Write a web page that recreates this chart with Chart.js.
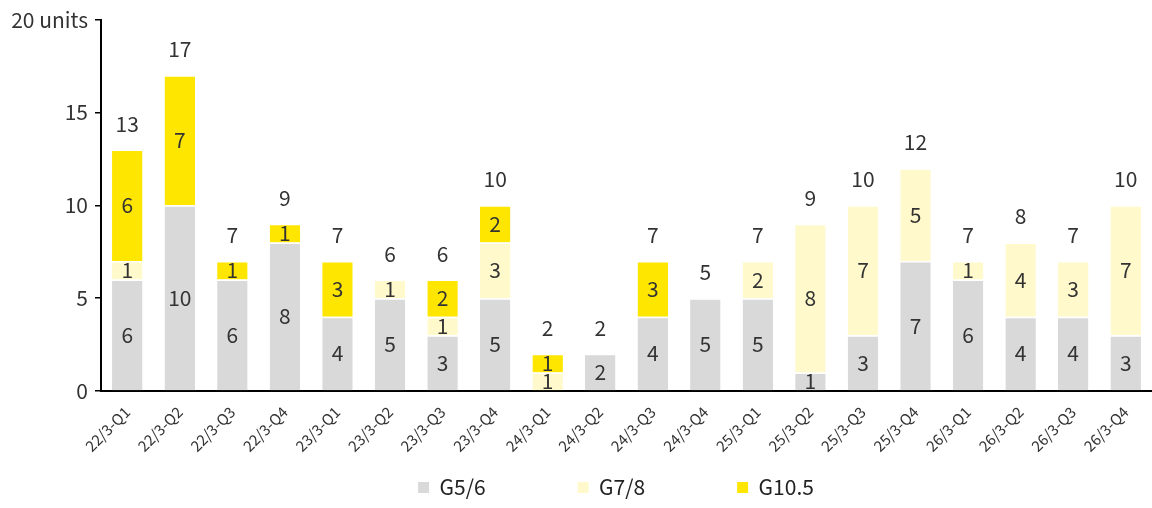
<!DOCTYPE html>
<html>
<head>
<meta charset="utf-8">
<script src="https://cdn.jsdelivr.net/npm/chart.js@4"></script>
<style>
  html, body { margin: 0; padding: 0; background: #fff; }
  #wrap { width: 1152px; height: 508px; }
</style>
</head>
<body>
<div id="wrap"><canvas id="myChart"></canvas></div>
<script>
const FONT = '"Noto Sans CJK JP", "Noto Sans", sans-serif';

const quarters = ['22/3-Q1', '22/3-Q2', '22/3-Q3', '22/3-Q4', '23/3-Q1', '23/3-Q2', '23/3-Q3', '23/3-Q4',
  '24/3-Q1', '24/3-Q2', '24/3-Q3', '24/3-Q4', '25/3-Q1', '25/3-Q2', '25/3-Q3', '25/3-Q4',
  '26/3-Q1', '26/3-Q2', '26/3-Q3', '26/3-Q4'];
const g56 = [6, 10, 6, 8, 4, 5, 3, 5, 0, 2, 4, 5, 5, 1, 3, 7, 6, 4, 4, 3];
const g78 = [1, 0, 0, 0, 0, 1, 1, 3, 1, 0, 0, 0, 2, 8, 7, 5, 1, 4, 3, 7];
const g105 = [6, 7, 1, 1, 3, 0, 2, 2, 1, 0, 3, 0, 0, 0, 0, 0, 0, 0, 0, 0];
const yTicks = [0, 5, 10, 15, 20];

const totals = quarters.map((q, i) => g56[i] + g78[i] + g105[i]);

// numbers inside each segment + totals above the stack
const valueLabels = {
  id: 'valueLabels',
  afterDatasetsDraw(chart) {
    const ctx = chart.ctx;
    const y = chart.scales.y;
    ctx.save();
    ctx.font = '21px ' + FONT;
    ctx.fillStyle = '#333';
    ctx.textAlign = 'center';
    ctx.textBaseline = 'middle';
    chart.data.datasets.forEach((ds, i) => {
      chart.getDatasetMeta(i).data.forEach((bar, j) => {
        if (!ds.data[j]) return;
        ctx.fillText(ds.data[j], bar.x, (bar.y + bar.base) / 2);
      });
    });
    const bars = chart.getDatasetMeta(0).data;
    totals.forEach((t, j) => {
      ctx.fillText(t, bars[j].x, y.getPixelForValue(t) - 26);
    });
    ctx.restore();
  }
};

// wide gaps between legend items
const legendGap = ['\u3000\u3000\u3000\u3000', '\u3000\u3000\u3000\u3000', '\u3000'];

const ctx = document.getElementById('myChart').getContext('2d');

new Chart(ctx, {
  type: 'bar',
  data: {
    labels: quarters,
    datasets: [
      { label: 'G5/6', data: g56, backgroundColor: '#D9D9D9' },
      { label: 'G7/8', data: g78, backgroundColor: '#FFF9CC' },
      { label: 'G10.5', data: g105, backgroundColor: '#FFE600' }
    ]
  },
  options: {
    responsive: true,
    maintainAspectRatio: false,
    animation: false,
    datasets: {
      bar: {
        barPercentage: 0.58,
        categoryPercentage: 1,
        borderColor: '#fff',
        borderWidth: { top: 1.5, bottom: 0, left: 0, right: 0 },
        borderSkipped: false
      }
    },
    layout: { padding: { top: 19, right: 0, left: 0, bottom: 0 } },
    scales: {
      x: {
        stacked: true,
        grid: { display: false },
        border: { display: true, color: '#000', width: 2 },
        ticks: {
          autoSkip: false,
          maxRotation: 45,
          minRotation: 45,
          padding: 4,
          color: '#333',
          font: { family: FONT, size: 15 }
        },
        afterFit(scale) {
          scale.height = 78;
          scale.paddingLeft = 0;
          scale.paddingRight = 0;
        }
      },
      y: {
        stacked: true,
        min: 0,
        max: 20,
        afterBuildTicks(scale) {
          scale.ticks = yTicks.map(v => ({ value: v }));
        },
        grid: { drawOnChartArea: false, drawTicks: true, tickLength: 6, color: '#000', lineWidth: 1.5 },
        border: { display: true, color: '#000', width: 2 },
        ticks: {
          padding: 7,
          color: '#333',
          font: { family: FONT, size: 21 },
          callback: function(value) {
            return value === 20 ? '20 units' : value;
          }
        },
        afterFit(scale) {
          scale.width = 101;
        }
      }
    },
    plugins: {
      tooltip: { enabled: false },
      legend: {
        position: 'bottom',
        fullSize: false,
        labels: {
          boxWidth: 11,
          boxHeight: 11,
          padding: 8,
          color: '#222',
          font: { family: FONT, size: 21 },
          generateLabels(chart) {
            const items = Chart.defaults.plugins.legend.labels.generateLabels(chart);
            items.forEach((it, i) => {
              it.text = it.text + legendGap[i];
              it.lineWidth = 0;
            });
            return items;
          }
        }
      }
    }
  },
  plugins: [valueLabels]
});
</script>
</body>
</html>
